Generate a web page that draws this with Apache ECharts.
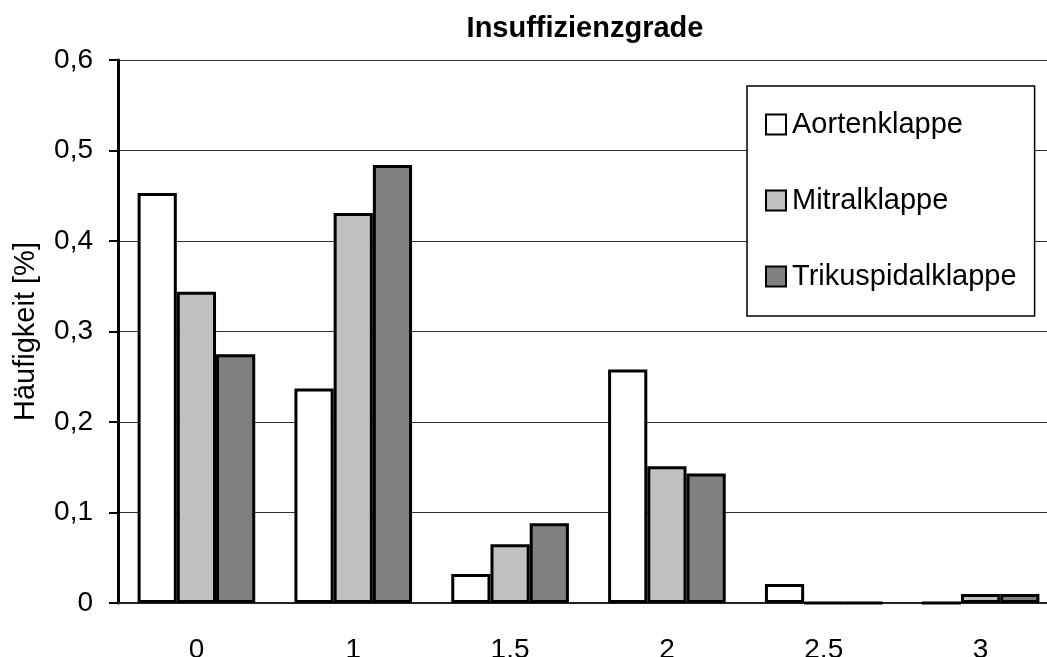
<!DOCTYPE html>
<html>
<head>
<meta charset="utf-8">
<title>Insuffizienzgrade</title>
<script src="https://cdn.jsdelivr.net/npm/echarts@6/dist/echarts.min.js"></script>
<style>
  html, body {
    margin: 0;
    padding: 0;
    background: #fff;
  }
  #chart {
    width: 1047px;
    height: 657px;
  }
</style>
</head>
<body>
<div id="chart"></div>
<script>
const grades = ["0", "1", "1.5", "2", "2.5", "3"];
const aortenklappe = [0.453, 0.237, 0.032, 0.258, 0.021, 0];
const mitralklappe = [0.344, 0.431, 0.065, 0.151, 0, 0.010];
const trikuspidalklappe = [0.275, 0.484, 0.088, 0.143, 0, 0.010];

const font = "'Liberation Sans', Arial, sans-serif";

const chart = echarts.init(document.getElementById("chart"));

const barSeries = (name, data, color) => ({
  name: name,
  type: "bar",
  data: data,
  barGap: "0%",
  barCategoryGap: "25%",
  itemStyle: {
    color: color,
    borderColor: "#000",
    borderWidth: 3,
  },
  emphasis: { disabled: true },
});

const option = {
  animation: false,
  textStyle: { fontFamily: font },
  title: {
    text: "Insuffizienzgrade",
    left: 580,
    top: 9,
    textAlign: "center",
    textStyle: {
      fontFamily: font,
      fontSize: 29,
      fontWeight: "bold",
      color: "#000",
    },
  },
  legend: {
    orient: "vertical",
    left: 747,
    top: 86,
    padding: [24, 18, 25, 18],
    backgroundColor: "#fff",
    borderColor: "#000",
    borderWidth: 1.5,
    borderRadius: 0,
    icon: "rect",
    itemWidth: 20,
    itemHeight: 20,
    itemGap: 47,
    textStyle: {
      fontFamily: font,
      fontSize: 29,
      lineHeight: 28,
      color: "#000",
      padding: [0, 0, 0, 1],
    },
    itemStyle: {
      borderColor: "#000",
      borderWidth: 2,
    },
    data: ["Aortenklappe", "Mitralklappe", "Trikuspidalklappe"],
  },
  grid: {
    left: 118,
    right: -12,
    top: 60,
    bottom: 54,
    containLabel: false,
    outerBoundsMode: "none",
  },
  xAxis: {
    type: "category",
    data: grades,
    boundaryGap: true,
    axisLine: {
      lineStyle: { color: "#222", width: 2 },
    },
    axisTick: { show: false },
    axisLabel: {
      fontFamily: font,
      fontSize: 28,
      color: "#000",
      margin: 33,
    },
  },
  yAxis: {
    type: "value",
    min: 0,
    max: 0.6,
    interval: 0.1,
    name: "Häufigkeit [%]",
    nameLocation: "middle",
    nameRotate: 90,
    nameGap: 78,
    nameTextStyle: {
      fontFamily: font,
      fontSize: 29,
      color: "#000",
    },
    axisLine: {
      show: true,
      lineStyle: { color: "#000", width: 3 },
    },
    axisTick: {
      show: true,
      inside: false,
      length: 9,
      lineStyle: { color: "#000", width: 2 },
    },
    axisLabel: {
      fontFamily: font,
      fontSize: 28,
      color: "#000",
      margin: 25,
      formatter: (v) => (v === 0 ? "0" : v.toFixed(1).replace(".", ",")),
    },
    splitLine: {
      show: true,
      lineStyle: { color: "#333", width: 1 },
    },
  },
  series: [
    barSeries("Aortenklappe", aortenklappe, "#ffffff"),
    barSeries("Mitralklappe", mitralklappe, "#c0c0c0"),
    barSeries("Trikuspidalklappe", trikuspidalklappe, "#808080"),
  ],
};

chart.setOption(option);
</script>
</body>
</html>
